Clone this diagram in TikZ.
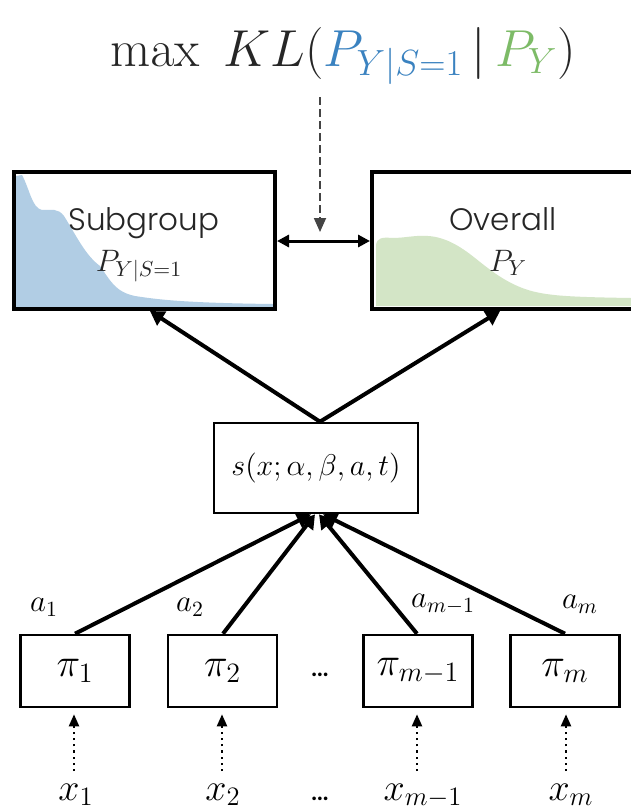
\RequirePackage{fix-cm}
\documentclass[tikz,border=0pt]{standalone}
\usepackage[no-math]{fontspec}
\newfontfamily\labelfont{Poppins Light}
\newfontfamily\dotfont{Lato}
\usetikzlibrary{arrows.meta}
\definecolor{tblue}{HTML}{3A82C0}
\definecolor{tgreen}{HTML}{7DBB67}
\definecolor{fblue}{HTML}{B1CDE4}
\definecolor{fgreen}{HTML}{D3E5C6}
\definecolor{dgray}{HTML}{444444}
\tikzset{
  distbox/.style={draw=black, line width=2pt, minimum width=130.5pt, minimum height=68.5pt, inner sep=0pt},
  pibox/.style={draw=black, line width=1.3pt, minimum width=54.5pt, minimum height=36pt, inner sep=0pt, font=\fontsize{20}{24}\selectfont},
  sbox/.style={draw=black, line width=1.3pt, minimum width=102pt, minimum height=45pt, inner sep=0pt, font=\fontsize{15}{18}\selectfont},
  boxtext/.style={font=\labelfont\fontsize{15.5}{18}\selectfont, text=black!85, inner sep=0pt, anchor=base},
  ptext/.style={font=\fontsize{15.5}{18}\selectfont, text=black!85, inner sep=0pt, anchor=base},
  alabel/.style={font=\fontsize{15.5}{18}\selectfont, inner sep=0pt},
  xlabel/.style={font=\fontsize{19}{22}\selectfont, inner sep=0pt, anchor=base},
  dotstext/.style={font=\dotfont\bfseries\fontsize{12}{14}\selectfont, inner sep=0pt, anchor=base},
  thickarrow/.style={line width=2pt, -{Triangle[length=7pt,width=8pt]}},
  dottedarrow/.style={line width=1.1pt, dotted, -{Triangle[length=6pt,width=5pt]}, shorten >=3pt, shorten <=6pt},
}
\begin{document}
\begin{tikzpicture}[x=0.5pt,y=-0.5pt]
\clip (0,0) rectangle (631,809);
\fill[white] (0,0) rectangle (631,809);

% title
\node[inner sep=0pt, anchor=base, font=\fontsize{26}{30}\selectfont, text=black!85] (title) at (343,66)
  {$\max\ KL(\textcolor{tblue}{P_{Y|S=1}}\,\mathbf{|}\,\textcolor{tgreen}{P_Y})$};
\coordinate (kltop) at (320,97);

% densities
\fill[fblue] (16,307) -- (16,176) -- (22,175)
  .. controls (30,190) and (32,208) .. (42,210)
  .. controls (52,210) and (58,208) .. (64,216)
  .. controls (76,235) and (85,255) .. (100,266)
  .. controls (110,280) and (115,292) .. (135,296)
  .. controls (160,300) and (190,303) .. (273,304) -- (273,307) -- cycle;
\fill[fgreen] (376,306) -- (376,245)
  .. controls (377,238) and (382,237) .. (392,238)
  .. controls (405,238) and (415,235) .. (428,236)
  .. controls (445,237) and (460,246) .. (475,258)
  .. controls (490,270) and (505,282) .. (525,289)
  .. controls (545,296) and (570,297) .. (631,298) -- (631,306) -- cycle;

% distribution boxes
\node[distbox] (sub) at (144.5,240.5) {};
\node[distbox, minimum width=139pt] (over) at (511,240.5) {};
\node[boxtext] (subtxt) at (144,230) {Subgroup};
\node[ptext] (subp) at (139,271) {$P_{Y|S=1}$};
\node[boxtext] (overtxt) at (503,230) {Overall};
\node[ptext] (overp) at (508,271) {$P_Y$};

\draw[dgray, line width=0.9pt, dash pattern=on 4pt off 2pt, -{Triangle[length=7pt,width=6pt]}] (kltop) -- (320,232);
\draw[line width=1.5pt, {Triangle[length=6pt,width=6pt]}-{Triangle[length=6pt,width=6pt]}] (sub.east |- 0,241) -- (over.west |- 0,241);

% score box
\node[sbox] (s) at (316,468) {$s(x;\alpha,\beta,a,t)$};
\draw[thickarrow] (s.north -| 320,0) -- (sub.south -| 150,0);
\draw[thickarrow] (s.north -| 320,0) -- (over.south -| 500,0);

% policy boxes
\node[pibox] (p1) at (75,671) {$\pi_1$};
\node[pibox] (p2) at (222.5,671) {$\pi_2$};
\node[pibox] (p3) at (418,671) {$\pi_{m-1}$};
\node[pibox] (p4) at (565,671) {$\pi_m$};
\node[dotstext] (pdots) at (320,676) {...};

\draw[thickarrow] (p1.north -| 75,0) -- (s.south -| 311,0);
\draw[thickarrow] (p2.north -| 223,0) -- (s.south -| 315,0);
\draw[thickarrow] (p3.north -| 417,0) -- (s.south -| 319,0);
\draw[thickarrow] (p4.north -| 565,0) -- (s.south -| 323,0);

\node[alabel] (a1) at (44,607) {$a_1$};
\node[alabel] (a2) at (190,607) {$a_2$};
\node[alabel] (a3) at (443,604) {$a_{m-1}$};
\node[alabel] (a4) at (580,604) {$a_m$};

% inputs
\node[xlabel] (x1) at (76,800) {$x_1$};
\node[xlabel] (x2) at (223,800) {$x_2$};
\node[xlabel] (x3) at (423,800) {$x_{m-1}$};
\node[xlabel] (x4) at (571,800) {$x_m$};
\node[dotstext] (xdots) at (320,800) {...};

\draw[dottedarrow] (x1.north -| 74,0) -- (p1.south -| 74,0);
\draw[dottedarrow] (x2.north -| 222,0) -- (p2.south -| 222,0);
\draw[dottedarrow] (x3.north -| 417,0) -- (p3.south -| 417,0);
\draw[dottedarrow] (x4.north -| 566,0) -- (p4.south -| 566,0);
\end{tikzpicture}
\end{document}
